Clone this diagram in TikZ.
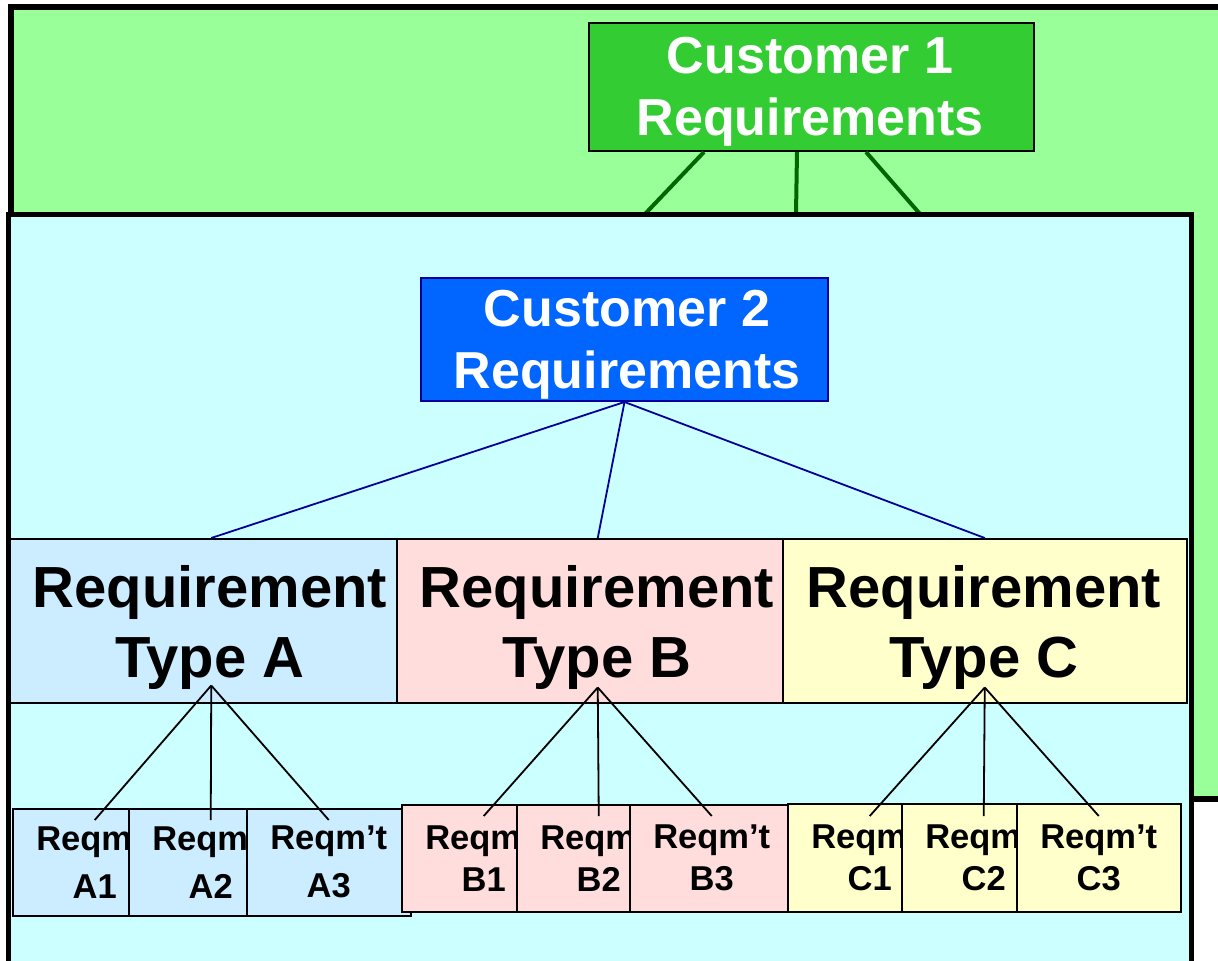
\documentclass[tikz,border=0pt]{standalone}
\usepackage{fontspec}
\setmainfont{Liberation Sans}
\usetikzlibrary{calc}
\definecolor{greenbg}{HTML}{99FF99}
\definecolor{cyanbg}{HTML}{CCFFFF}
\definecolor{custAfill}{HTML}{33CC33}
\definecolor{custAline}{HTML}{006600}
\definecolor{custBfill}{HTML}{0066FF}
\definecolor{custBline}{HTML}{000099}
\definecolor{typeAfill}{HTML}{CCECFF}
\definecolor{typeBfill}{HTML}{FFDDDD}
\definecolor{typeCfill}{HTML}{FFFFCC}
\tikzset{
  custtxt/.style={font=\bfseries\fontsize{52pt}{62pt}\selectfont, text=white, align=center, inner sep=0pt},
  typetxt/.style={font=\bfseries\fontsize{58pt}{70pt}\selectfont, text=black, align=center, inner sep=0pt},
  boxnode/.style={draw=black, line width=1.5pt, inner sep=0pt, anchor=north west},
  typebox/.style={boxnode, minimum height=164pt},
  smallbox/.style={boxnode, minimum width=164pt, minimum height=107pt, align=center},
  smallA/.style={smallbox, font=\bfseries\fontsize{34.5pt}{48pt}\selectfont},
  smallBC/.style={smallbox, font=\bfseries\fontsize{34.5pt}{42pt}\selectfont},
  greenconn/.style={draw=custAline, line width=4pt},
  blueconn/.style={draw=custBline, line width=1.8pt},
  blackconn/.style={draw=black, line width=1.8pt},
}
\begin{document}
\begin{tikzpicture}[x=1pt,y=-1pt]
\useasboundingbox (0,0) rectangle (1218,961);
\clip (0,0) rectangle (1218,961);
% outer green container
\draw[line width=6pt, fill=greenbg] (11,7) rectangle (1260,799);
% Customer 1
\node[boxnode, line width=2pt, fill=custAfill, minimum width=445pt, minimum height=128pt] (cust1) at (588,22) {};
\node[custtxt] (cust1t) at (810,92) {Customer 1\\Requirements};
\coordinate (g1) at (645,214);
\coordinate (g2) at (796,214);
\coordinate (g3) at (920,214);
\draw[greenconn] ($(cust1.south)+(-107.5,0)$) -- (g1);
\draw[greenconn] ($(cust1.south)+(-14.5,0)$) -- (g2);
\draw[greenconn] ($(cust1.south)+(54.5,0)$) -- (g3);
% inner cyan container
\draw[line width=5pt, fill=cyanbg] (8.5,214) rectangle (1191,1000);
% Customer 2
\node[boxnode, draw=custBline, line width=2pt, fill=custBfill, minimum width=407pt, minimum height=123pt] (cust2) at (420,277) {};
\node[custtxt] (cust2t) at (627,345) {Customer 2\\Requirements};
% requirement types
\node[typebox, fill=typeAfill, minimum width=403pt] (ta) at (9,538) {};
\node[typetxt] (tat) at (210,627.5) {Requirement\\Type A};
\node[typebox, fill=typeBfill, minimum width=402pt] (tb) at (396,538) {};
\node[typetxt] (tbt) at (597,627.5) {Requirement\\Type B};
\node[typebox, fill=typeCfill, minimum width=404pt] (tc) at (782,538) {};
\node[typetxt] (tct) at (984,627.5) {Requirement\\Type C};
% small requirement boxes
\node[smallA, fill=typeAfill] (ra1) at (12,808) {Reqm't\\A1};
\node[smallA, fill=typeAfill] (ra2) at (128,808) {Reqm't\\A2};
\node[smallA, fill=typeAfill] (ra3) at (246,808) {Reqm't\\A3};
\node[smallBC, fill=typeBfill] (rb1) at (401,804) {Reqm't\\B1};
\node[smallBC, fill=typeBfill] (rb2) at (516,804) {Reqm't\\B2};
\node[smallBC, fill=typeBfill] (rb3) at (629,804) {Reqm't\\B3};
\node[smallBC, fill=typeCfill, minimum height=108pt] (rc1) at (787,803) {Reqm't\\C1};
\node[smallBC, fill=typeCfill, minimum height=108pt] (rc2) at (901,803) {Reqm't\\C2};
\node[smallBC, fill=typeCfill, minimum height=108pt] (rc3) at (1016,803) {Reqm't\\C3};
% connectors from Customer 2
\draw[blueconn] (cust2.south) -- (ta.north);
\draw[blueconn] (cust2.south) -- (tb.north);
\draw[blueconn] (cust2.south) -- (tc.north);
% connectors from types to items
\coordinate (apA) at ($(ta.south)+(0,-18)$);
\coordinate (apB) at ($(tb.south)+(0,-16)$);
\coordinate (apC) at ($(tc.south)+(0,-16)$);
\draw[blackconn] (apA) -- ($(ra1.north)+(0,12)$);
\draw[blackconn] (apA) -- ($(ra2.north)+(0,12)$);
\draw[blackconn] (apA) -- ($(ra3.north)+(0,12)$);
\draw[blackconn] (apB) -- ($(rb1.north)+(0,12)$);
\draw[blackconn] (apB) -- ($(rb2.north)+(0,12)$);
\draw[blackconn] (apB) -- ($(rb3.north)+(0,12)$);
\draw[blackconn] (apC) -- ($(rc1.north)+(0,13)$);
\draw[blackconn] (apC) -- ($(rc2.north)+(0,13)$);
\draw[blackconn] (apC) -- ($(rc3.north)+(0,13)$);
\end{tikzpicture}
\end{document}
